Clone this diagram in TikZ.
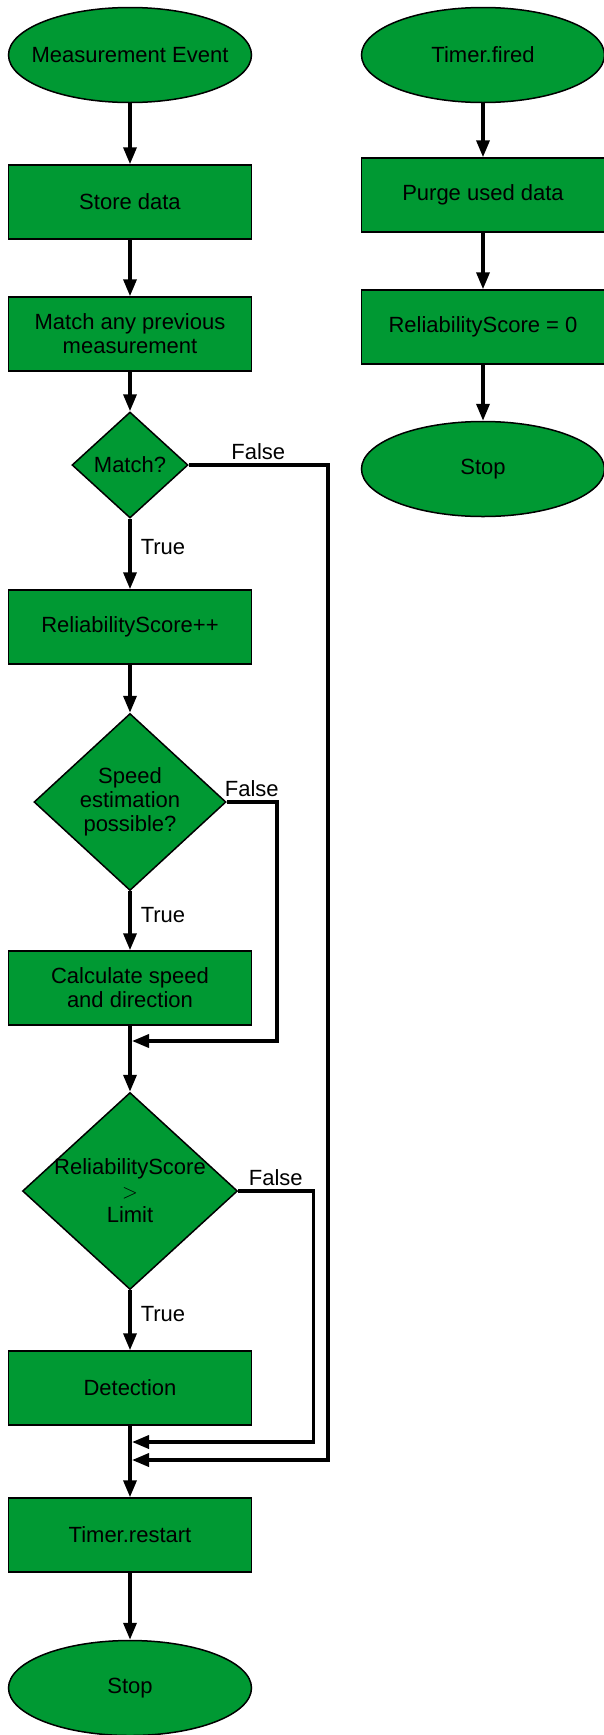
\documentclass[tikz,border=0pt]{standalone}
\usepackage{fontspec}
\setmainfont{Liberation Sans}
\usetikzlibrary{shapes.geometric,arrows.meta}
\definecolor{flowgreen}{RGB}{0,153,51}

\begin{document}
\begin{tikzpicture}[x=1pt,y=-1pt]
        \tikzset{every node/.style={font=\fontsize{22}{24}\selectfont, align=center},
                 box/.style={draw, line width=1.5pt, fill=flowgreen, minimum width=243pt, minimum height=74pt, inner sep=0pt},
                 terminal/.style={ellipse, draw, line width=1.5pt, fill=flowgreen, minimum width=243pt, minimum height=95pt, inner xsep=-30pt, inner ysep=0pt},
                 decision/.style={diamond, draw, line width=1.5pt, fill=flowgreen, inner xsep=-10pt, inner ysep=-6pt},
                 flow/.style={line width=3.5pt, -{Triangle[length=17pt,width=13pt]}},
                 branch/.style={inner sep=4pt, fill=none}}
        \useasboundingbox (0,0) rectangle (604,1735);

        \node [terminal] (event) at (130,55) {Measurement Event};
        \node [box] (store) at (130,202) {Store data};
        \node [box] (matchprev) at (130,334) {Match any previous\\measurement};
        \node [decision, minimum width=116pt, minimum height=106pt] (match) at (130,465) {Match?};
        \node [box] (scoreinc) at (130,627) {ReliabilityScore++};
        \node [decision, minimum width=192pt, minimum height=177pt] (speed) at (130,802) {Speed\\estimation\\possible?};
        \node [box] (calc) at (130,988) {Calculate speed\\and direction};
        \node [decision, minimum width=215pt, minimum height=197pt] (limit) at (130,1191) {ReliabilityScore\\$>$\\Limit};
        \node [box] (detect) at (130,1388) {Detection};
        \node [box] (restart) at (130,1535) {Timer.restart};
        \node [terminal] (stop) at (130,1688) {Stop};

        \node [terminal] (fired) at (483,55) {Timer.fired};
        \node [box] (purge) at (483,195) {Purge used data};
        \node [box] (scorezero) at (483,327) {ReliabilityScore = 0};
        \node [terminal] (stoptimer) at (483,469) {Stop};

        \coordinate (join1) at (132,1041);
        \coordinate (join2) at (132,1442);
        \coordinate (join3) at (132,1460);

        \draw [flow] (event) -- (store);
        \draw [flow] (store) -- (matchprev);
        \draw [flow] (matchprev) -- (match);
        \draw [flow] (match) -- node [branch, right=5pt, pos=0.4] {True} (scoreinc);
        \draw [flow] (match.east) -- node [branch, above] {False} ++(139,0) |- (join3);
        \draw [flow] (scoreinc) -- (speed);
        \draw [flow] (speed) -- node [branch, right=5pt, pos=0.4] {True} (calc);
        \draw [flow] (speed.east) -- node [branch, above] {False} ++(50,0) |- (join1);
        \draw [flow] (calc) -- (limit);
        \draw [flow] (limit) -- node [branch, right=5pt, pos=0.4] {True} (detect);
        \draw [flow] (limit.east) -- node [branch, above] {False} ++(75,0) |- (join2);
        \draw [flow] (detect) -- (restart);
        \draw [flow] (restart) -- (stop);

        \draw [flow] (fired) -- (purge);
        \draw [flow] (purge) -- (scorezero);
        \draw [flow] (scorezero) -- (stoptimer);
\end{tikzpicture}
\end{document}
